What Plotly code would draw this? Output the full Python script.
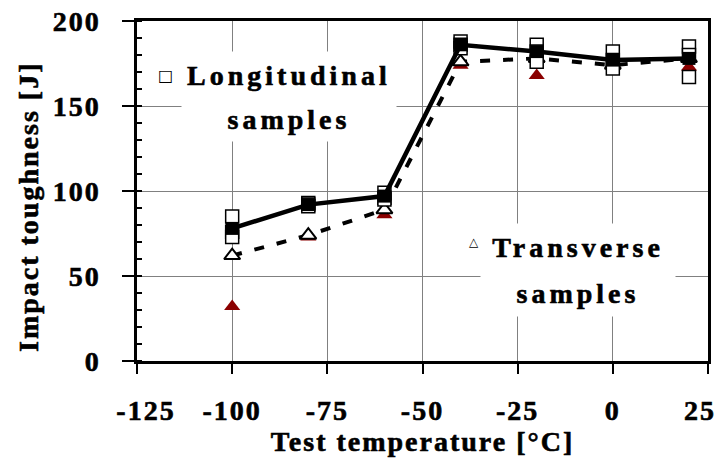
import plotly.graph_objects as go

# ---- data ----
temps = [-100, -80, -60, -40, -20, 0, 20]

# longitudinal individual samples (open squares)
long_t = [-100, -100, -100, -80, -80, -80, -60, -60, -60,
          -40, -40, -40, -20, -20, -20, 0, 0, 0, 20, 20, 20]
long_v = [85, 76, 73, 93, 92, 91, 99, 96, 95,
          188, 186, 184, 186, 182, 176, 182, 177, 172, 185, 180, 167]
long_mean = [78, 92, 97, 186, 182, 177, 178]

# transverse individual samples (filled dark red triangles)
trans_t = [-100, -80, -60, -40, -20, 20]
trans_v = [32, 73, 86, 174, 168, 173]
trans_mean = [62, 74, 89, 176, 178, 174, 178]

x_ticks = [-125, -100, -75, -50, -25, 0, 25]
# the last label is drawn as an annotation, nudged inside the figure (as in the reference)
x_ticktext = ["\u00a0\u00a0-125", "-100", "-75", "-50", "-25", "0", ""]
last_xlabel = "25"
y_ticks = [0, 50, 100, 150, 200]

FONT = "Liberation Serif"
W, H = 722, 458
L, R, T, B = 137, 14, 21, 97
PW, PH = W - L - R, H - T - B


def px_x(p):
    return (p - L) / PW


def px_y(p):
    return (H - B - p) / PH


fig = go.Figure()

fig.add_trace(go.Scatter(
    x=trans_t, y=trans_v, mode="markers", name="Transverse samples",
    marker=dict(symbol="triangle-up", size=14, color="#8B0000"),
    showlegend=False))

fig.add_trace(go.Scatter(
    x=temps, y=trans_mean, mode="lines+markers", name="Transverse mean",
    line=dict(color="black", width=4, dash="10px,13px"),
    marker=dict(symbol="triangle-up", size=14, color="white",
                line=dict(color="black", width=2)),
    showlegend=False))

fig.add_trace(go.Scatter(
    x=long_t, y=long_v, mode="markers", name="Longitudinal samples",
    marker=dict(symbol="square", size=13, color="white",
                line=dict(color="black", width=1.5)),
    showlegend=False))

fig.add_trace(go.Scatter(
    x=temps, y=long_mean, mode="lines+markers", name="Longitudinal mean",
    line=dict(color="black", width=4.5),
    marker=dict(symbol="square", size=13, color="black"),
    showlegend=False))

tickfont = dict(family=FONT, size=28, color="black", weight="bold")

fig.update_xaxes(
    range=[-125, 25], tickvals=x_ticks, ticktext=x_ticktext,
    ticks="outside", ticklen=10, tickwidth=2, tickcolor="black",
    showline=True, linecolor="black", linewidth=2.5, mirror=True,
    showgrid=True, gridcolor="#808080", gridwidth=1, zeroline=False,
    tickfont=tickfont, ticklabelstandoff=13, automargin=False,
    ticklabeloverflow="allow",
    title=dict(text="Test temperature [°C]", font=tickfont, standoff=3),
)
fig.update_yaxes(
    range=[0, 200], tickmode="linear", tick0=0, dtick=50,
    ticks="outside", ticklen=12, tickwidth=2, tickcolor="black",
    minor=dict(tickmode="linear", tick0=0, dtick=10, ticks="inside",
               ticklen=5, tickwidth=1.5, tickcolor="black", showgrid=False),
    showline=True, linecolor="black", linewidth=2.5, mirror=True,
    showgrid=True, gridcolor="#808080", gridwidth=1, zeroline=False,
    tickfont=tickfont, ticklabelstandoff=16, automargin=False,
    ticklabeloverflow="allow",
)

legfont = dict(family=FONT, size=28, color="black", weight="bold")
ann = []
# y axis title (index 0)
ann.append(dict(text="Impact toughness [J]", xref="paper", yref="paper",
                x=px_x(28), y=px_y(207), xanchor="center", yanchor="middle",
                textangle=-90, showarrow=False, font=tickfont))
# legend text boxes (index 1-4)
for txt, cx, cy, w, h in [("Longitudinal", 289, 75, 214, 46),
                          ("samples", 289, 119, 214, 44),
                          ("Transverse", 578, 247, 194, 46),
                          ("samples", 578, 293, 194, 46)]:
    ann.append(dict(text=txt, xref="paper", yref="paper",
                    x=px_x(cx), y=px_y(cy), xanchor="center", yanchor="middle",
                    width=w, height=h, bgcolor="white", borderpad=0,
                    showarrow=False, font=legfont))
# legend symbols (index 5-6)
ann.append(dict(text="□", xref="paper", yref="paper", x=px_x(165), y=px_y(75),
                xanchor="center", yanchor="middle", showarrow=False,
                font=dict(family="DejaVu Sans", size=16, color="black")))
ann.append(dict(text="△", xref="paper", yref="paper", x=px_x(474), y=px_y(242),
                xanchor="center", yanchor="middle", showarrow=False,
                font=dict(family="DejaVu Sans", size=12, color="black", weight="bold")))
# last x tick label (index 7)
ann.append(dict(text=last_xlabel, xref="paper", yref="paper", x=px_x(716),
                y=px_y(410), xanchor="right", yanchor="middle", showarrow=False,
                font=tickfont))

fig.update_layout(
    width=W, height=H, margin=dict(l=L, r=R, t=T, b=B, autoexpand=False),
    paper_bgcolor="white", plot_bgcolor="white",
    annotations=ann, showlegend=False,
)

post = """
var gd = document.getElementById('{plot_id}');
function heavy(t, ls){
  t.style.letterSpacing = ls;
  t.style.stroke = 'black';
  t.style.strokeWidth = '0.6px';
}
function sp(){
  gd.querySelectorAll('.xtick text, .ytick text, .xtitle').forEach(function(t){heavy(t,'2px');});
  gd.querySelectorAll('.annotation').forEach(function(a){
    var i = a.getAttribute('data-index');
    var t = a.querySelector('text');
    if(!t) return;
    if(i==='0') heavy(t,'2px');
    else if(i==='7') heavy(t,'2px');
    else if(i==='1'||i==='2'||i==='3'||i==='4') heavy(t,'4px');
  });
}
sp();
gd.on('plotly_afterplot', sp);
"""

fig.write_html("out.html", post_script=post)
